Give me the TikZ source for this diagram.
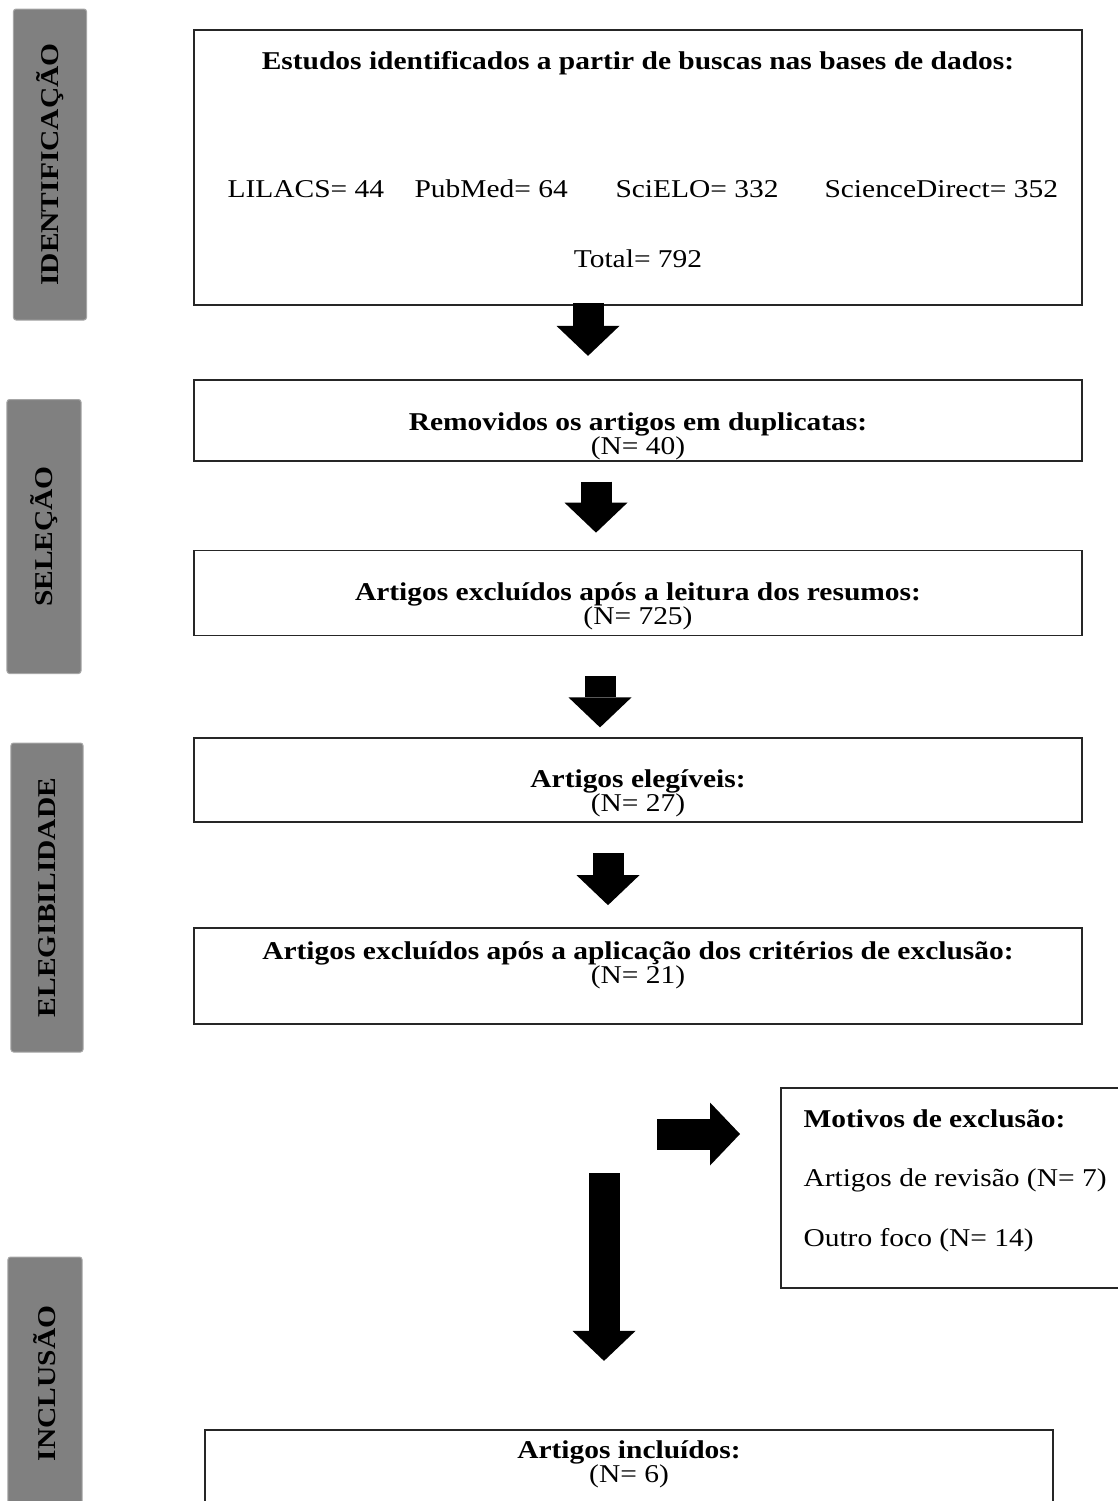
\documentclass[tikz,border=0pt]{standalone}
\usepackage{fontspec}
\setmainfont{Liberation Serif}[FakeStretch=1.15]
\usetikzlibrary{arrows.meta,positioning}
\newcommand\tamanho{\fontsize{10.25}{9.6}\selectfont}

\begin{document}
\begin{tikzpicture}[
    x=0.4pt,y=-0.4pt,
    node distance=30pt,
    txt/.style={inner sep=0pt,font=\tamanho},
    rotulo/.style={inner sep=0pt,align=center,font={\tamanho\lineskiplimit=-20pt}},
    box/.style={draw=black!85,line width=0.7pt,minimum width=355.2pt,inner sep=0pt},
    fase/.style={draw=black!35,fill=gray,rounded corners=1pt,rotate=90,inner sep=0pt,font=\tamanho\bfseries},
    seta/.style={line width=12.4pt,-{Triangle[length=12pt,width=25.2pt,line width=0pt]}}
  ]
    \useasboundingbox (0,0) rectangle (1118,1501);
    \node[fase,minimum width=124.4pt,minimum height=29.2pt] (ident) at (50,164.5) {IDENTIFICAÇÃO};
    \node[fase,minimum width=109.6pt,minimum height=29.6pt] (selec) at (44,536.5) {SELEÇÃO};
    \node[fase,minimum width=123.6pt,minimum height=28.8pt] (eleg) at (47,897.5) {ELEGIBILIDADE};
    \node[fase,minimum width=101.2pt,minimum height=29.6pt] (incl) at (45,1383.5) {INCLUSÃO};

    \node[box,minimum height=110pt] (busca) at (638,167.5) {};
    \node[txt,font=\tamanho\bfseries,anchor=base] (titulo) at (638,69) {Estudos identificados a partir de buscas nas bases de dados:};
    \node[txt,anchor=base west] (lilacs) at (227,197) {LILACS= 44};
    \node[txt,anchor=base west] (pubmed) at (414,197) {PubMed= 64};
    \node[txt,anchor=base west] (scielo) at (615,197) {SciELO= 332};
    \node[txt,anchor=base west] (sdirect) at (824,197) {ScienceDirect= 352};
    \node[txt,anchor=base] (total) at (638,267) {Total= 792};

    \node[box,minimum height=32.4pt,below=29.2pt of busca] (dup) {};
    \node[box,minimum height=34pt,below=35.2pt of dup] (resumos) {};
    \node[box,minimum height=33.6pt,below=40.4pt of resumos] (elegiveis) {};
    \node[box,minimum height=38.4pt,below=41.6pt of elegiveis] (criterios) {};
    \node[box,minimum width=339.2pt,minimum height=33.6pt,below=161.6pt of criterios,xshift=-3.6pt] (incluidos) {};
    \node[box,minimum width=138.4pt,minimum height=80pt,anchor=north west] (motivos) at (780,1087) {};
    \node[rotulo] (dupt) at ([yshift=-6.6pt]dup.center) {\textbf{Removidos os artigos em duplicatas:}\\(N= 40)};
    \node[rotulo] (resumost) at ([yshift=-5.2pt]resumos.center) {\textbf{Artigos excluídos após a leitura dos resumos:}\\(N= 725)};
    \node[rotulo] (elegiveist) at ([yshift=-5.2pt]elegiveis.center) {\textbf{Artigos elegíveis:}\\(N= 27)};
    \node[rotulo] (criteriost) at ([yshift=4.2pt]criterios.center) {\textbf{Artigos excluídos após a aplicação dos critérios de exclusão:}\\(N= 21)};
    \node[rotulo] (incluidost) at ([yshift=3pt]incluidos.center) {\textbf{Artigos incluídos:}\\(N= 6)};
    \node[txt,anchor=north west,text width=130pt,align=flush left,font=\fontsize{10.25}{12}\selectfont] (motivost) at ([xshift=9.2pt,yshift=-8.8pt]motivos.north west) {\textbf{Motivos de exclusão:}\\[11.8pt]Artigos de revisão (N= 7)\\[11.8pt]Outro foco (N= 14)};

    \draw[seta] ([xshift=-20pt,yshift=1.2pt]busca.south) -- ([xshift=-20pt,yshift=9.2pt]dup.north);
    \draw[seta] ([xshift=-16.8pt,yshift=-8pt]dup.south) -- ([xshift=-16.8pt,yshift=6.8pt]resumos.north);
    \draw[seta] ([xshift=-15.2pt,yshift=-16pt]resumos.south) -- ([xshift=-15.2pt,yshift=4pt]elegiveis.north);
    \draw[seta] ([xshift=-12pt,yshift=-12pt]elegiveis.south) -- ([xshift=-12pt,yshift=8.8pt]criterios.north);
    \coordinate (desvio) at (657,1134);
    \draw[seta,shorten >=16pt] (desvio) -- (desvio -| motivos.west);
    \coordinate (inclui) at (604,1173);
    \draw[seta,shorten >=27.2pt] (inclui) -- (inclui |- incluidos.north);
  \end{tikzpicture}
\end{document}
